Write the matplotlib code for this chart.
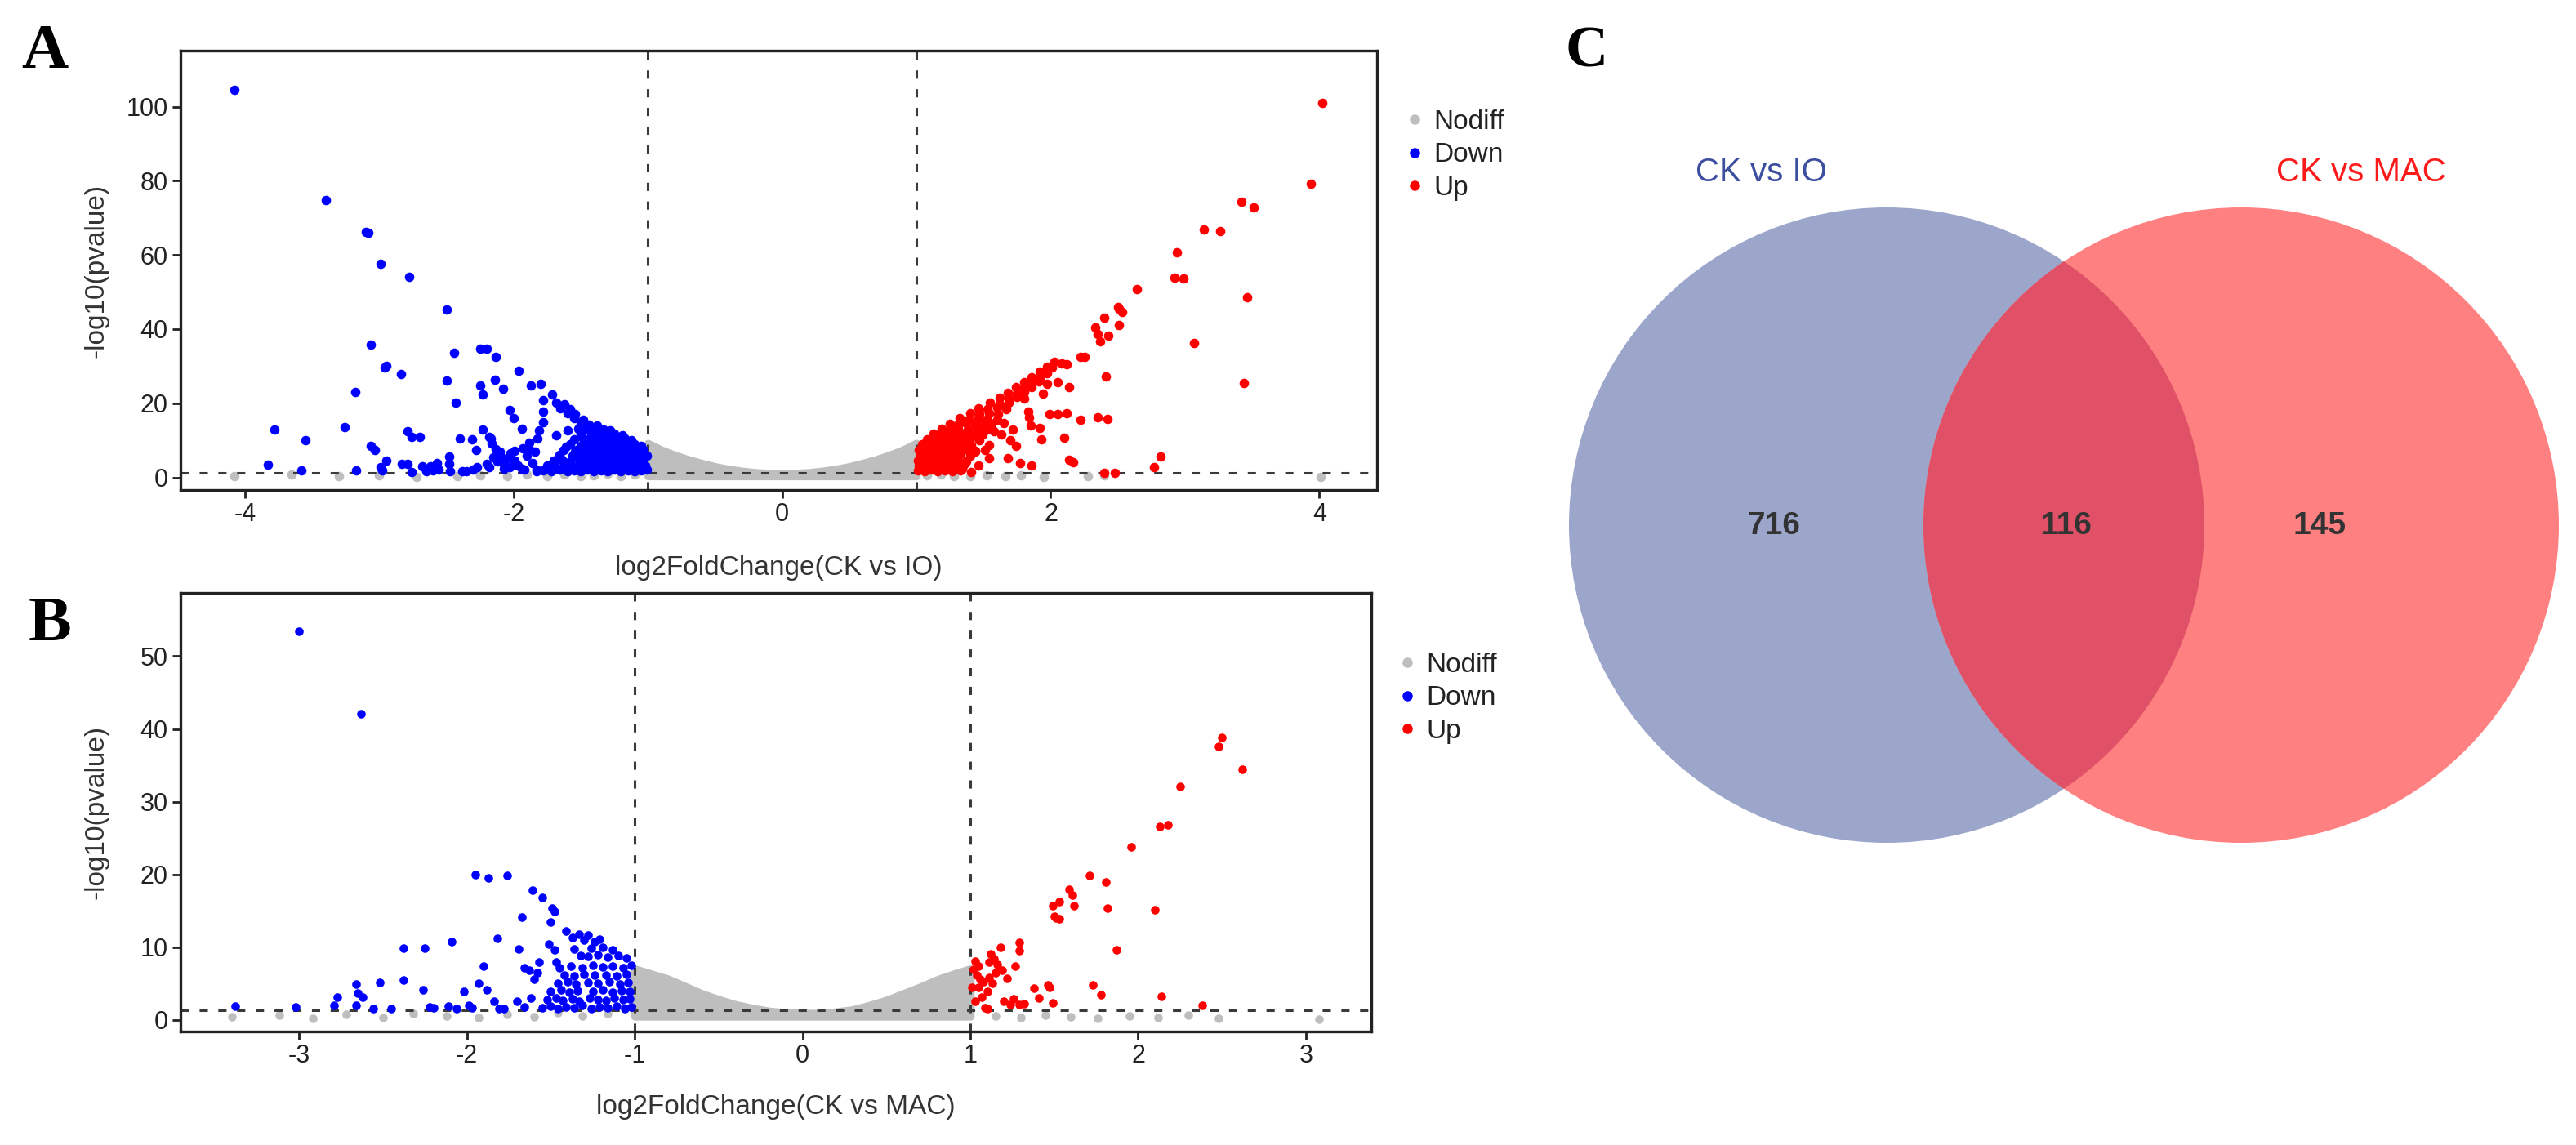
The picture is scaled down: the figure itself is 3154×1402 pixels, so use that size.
import matplotlib
matplotlib.use('Agg')
import matplotlib.pyplot as plt
from matplotlib.patches import Circle
from matplotlib.lines import Line2D

plt.rcParams['font.family'] = ['Liberation Sans', 'DejaVu Sans']
plt.rcParams['axes.unicode_minus'] = False

GREY = '#bebebe'
BLUE = '#0000ff'
RED = '#ff0000'
LEVELS = ['Nodiff', 'Down', 'Up']

# ---------------- panel A : CK vs IO ----------------
a_down = [
    (-4.08, 104.6), (-3.40, 74.7), (-3.10, 66.3), (-3.08, 65.9), (-2.99, 57.6), (-2.78, 54.1),
    (-2.50, 45.3), (-3.06, 35.9), (-2.44, 33.5), (-2.25, 34.6), (-2.20, 34.8), (-2.13, 32.4),
    (-2.96, 29.6), (-2.95, 30.0), (-2.84, 27.9), (-1.96, 28.7), (-2.50, 26.2), (-2.25, 24.8),
    (-2.14, 26.4), (-2.08, 23.9), (-2.23, 22.3), (-3.18, 23.1), (-2.43, 20.2), (-1.87, 24.8),
    (-1.80, 25.2), (-1.71, 22.4), (-1.78, 20.8), (-1.78, 17.7), (-1.78, 14.8), (-1.81, 12.7),
    (-1.82, 10.5), (-2.03, 18.2), (-2.00, 16.0), (-1.94, 13.1), (-3.78, 12.8), (-3.55, 10.0),
    (-3.26, 13.5), (-2.79, 12.5), (-2.76, 10.9), (-2.70, 10.9), (-3.06, 8.4), (-3.03, 7.3),
    (-2.40, 10.5), (-2.31, 10.2), (-2.23, 12.8), (-2.28, 7.3), (-2.18, 10.9), (-2.16, 9.1),
    (-2.13, 7.7), (-2.17, 10.5), (-2.48, 5.7), (-3.83, 3.5), (-3.58, 1.8), (-3.17, 1.8),
    (-2.99, 2.7), (-2.95, 4.6), (-2.98, 1.8), (-2.83, 3.6), (-2.79, 3.6), (-2.76, 1.5),
    (-2.68, 3.0), (-2.62, 3.0), (-2.57, 3.9), (-2.56, 2.1), (-2.65, 1.6), (-2.60, 1.9),
    (-2.47, 1.7), (-2.48, 3.6), (-2.38, 1.6), (-2.35, 1.6), (-2.30, 2.1), (-2.27, 2.8),
    (-2.20, 3.6), (-2.18, 2.7), (-2.12, 4.3), (-2.10, 6.1), (-2.07, 2.4), (-2.05, 5.2),
    (-2.02, 6.6), (-1.99, 4.6), (-1.97, 3.2), (-1.93, 7.8), (-1.92, 2.2), (-1.90, 5.8),
    (-1.88, 9.3), (-1.86, 3.8), (-1.84, 6.9), (-1.83, 2.0), (-2.15, 5.4), (-2.08, 3.9),
    (-2.03, 2.8), (-1.94, 2.4), (-1.88, 7.6), (-1.99, 7.2), (-2.10, 6.9), (-1.83, 1.7),
    (-1.73, 3.2), (-1.68, 11.3), (-1.60, 12.7), (-1.61, 8.3), (-1.54, 6.9), (-1.48, 10.5),
    # dense cluster next to the -1 threshold
    (-1.78, 1.9), (-1.72, 1.6), (-1.66, 2.0), (-1.60, 1.7), (-1.55, 1.9), (-1.50, 1.6),
    (-1.45, 2.0), (-1.40, 1.7), (-1.35, 1.8), (-1.30, 1.6), (-1.25, 2.0), (-1.20, 1.7),
    (-1.15, 1.9), (-1.10, 1.6), (-1.05, 1.8), (-1.01, 2.1),
    (-1.75, 3.3), (-1.69, 3.0), (-1.62, 3.4), (-1.57, 3.1), (-1.52, 3.3), (-1.47, 3.0),
    (-1.42, 3.4), (-1.37, 3.2), (-1.32, 3.0), (-1.27, 3.4), (-1.22, 3.1), (-1.17, 3.3),
    (-1.12, 3.0), (-1.07, 3.4), (-1.02, 3.2),
    (-1.70, 4.5), (-1.64, 4.8), (-1.58, 4.4), (-1.51, 4.7), (-1.46, 4.5), (-1.41, 4.9),
    (-1.36, 4.6), (-1.30, 4.4), (-1.25, 4.8), (-1.19, 4.5), (-1.14, 4.7), (-1.09, 4.4),
    (-1.04, 4.8),
    (-1.66, 6.1), (-1.56, 5.9), (-1.49, 6.2), (-1.44, 5.8), (-1.38, 6.1), (-1.33, 6.0),
    (-1.28, 6.3), (-1.22, 5.9), (-1.17, 6.2), (-1.12, 5.8), (-1.06, 6.1), (-1.01, 5.9),
    (-1.63, 7.5), (-1.53, 7.3), (-1.46, 7.6), (-1.40, 7.2), (-1.35, 7.5), (-1.29, 7.3),
    (-1.24, 7.6), (-1.19, 7.4), (-1.14, 7.2), (-1.09, 7.5), (-1.03, 7.3),
    (-1.58, 8.9), (-1.50, 8.6), (-1.43, 9.0), (-1.37, 8.7), (-1.31, 8.9), (-1.26, 8.6),
    (-1.20, 8.9), (-1.15, 8.7), (-1.10, 9.0), (-1.05, 8.6),
    (-1.55, 10.3), (-1.45, 10.1), (-1.39, 10.4), (-1.33, 10.0), (-1.27, 10.3), (-1.22, 10.1),
    (-1.17, 10.4), (-1.12, 10.0),
    (-1.50, 11.7), (-1.42, 11.4), (-1.36, 11.8), (-1.30, 11.5), (-1.25, 11.7), (-1.19, 11.3),
    (-1.52, 13.1), (-1.45, 12.8), (-1.39, 13.2), (-1.33, 12.9), (-1.28, 12.6),
    (-1.50, 14.5), (-1.44, 14.2), (-1.38, 14.0), (-1.55, 15.9), (-1.48, 15.6),
    (-1.60, 17.3), (-1.54, 17.0), (-1.65, 18.7), (-1.58, 18.4), (-1.68, 20.1), (-1.62, 19.8),
]

a_up = [
    (4.02, 101.0), (3.94, 79.2), (3.42, 74.4), (3.51, 72.8), (3.14, 66.8), (3.26, 66.4),
    (2.94, 60.7), (2.92, 53.9), (2.99, 53.6), (3.46, 48.5), (2.64, 50.8), (3.07, 36.2),
    (3.44, 25.4), (2.51, 45.5), (2.53, 44.6), (2.50, 45.9), (2.40, 43.0), (2.33, 40.5),
    (2.35, 38.6), (2.37, 36.6), (2.51, 41.2), (2.43, 38.2), (2.22, 32.4), (2.25, 32.4),
    (2.41, 27.3), (2.14, 24.3), (2.05, 25.6), (1.97, 25.2), (1.94, 22.6), (1.80, 21.2),
    (1.99, 17.0), (2.05, 17.0), (2.12, 17.3), (2.22, 15.5), (2.35, 16.1), (2.42, 15.7),
    (1.83, 17.7), (1.84, 16.3), (1.85, 14.1), (1.92, 13.3), (1.93, 10.2), (2.10, 10.6),
    (1.74, 8.5), (1.54, 8.8), (1.51, 7.4), (1.54, 5.2), (1.68, 5.2), (1.77, 3.9),
    (1.86, 3.2), (2.14, 4.7), (2.17, 4.1), (2.82, 5.7), (2.77, 2.7), (2.40, 1.2),
    (2.48, 1.2), (1.44, 6.9), (1.46, 3.2), (1.34, 2.3), (1.41, 1.4), (1.63, 11.5),
    (1.70, 10.0), (1.58, 12.5), (1.65, 14.6), (1.72, 12.9),
    # dense cluster next to the +1 threshold
    (1.01, 1.9), (1.06, 1.6), (1.11, 2.0), (1.16, 1.7), (1.21, 1.9), (1.27, 1.6), (1.33, 1.8),
    (1.02, 3.3), (1.07, 3.0), (1.12, 3.4), (1.17, 3.1), (1.22, 3.3), (1.28, 3.0), (1.35, 3.4),
    (1.01, 4.5), (1.06, 4.8), (1.11, 4.4), (1.16, 4.7), (1.21, 4.5), (1.26, 4.9), (1.31, 4.6),
    (1.37, 4.4),
    (1.03, 6.1), (1.08, 5.9), (1.13, 6.2), (1.18, 5.8), (1.23, 6.1), (1.28, 6.0), (1.33, 6.3),
    (1.40, 5.9),
    (1.02, 7.5), (1.07, 7.3), (1.12, 7.6), (1.17, 7.2), (1.22, 7.5), (1.27, 7.3), (1.32, 7.6),
    (1.38, 7.4), (1.44, 7.2),
    (1.04, 8.9), (1.09, 8.6), (1.14, 9.0), (1.19, 8.7), (1.24, 8.9), (1.29, 8.6), (1.35, 8.9),
    (1.41, 8.7),
    (1.08, 10.3), (1.13, 10.1), (1.18, 10.4), (1.23, 10.0), (1.28, 10.3), (1.34, 10.1),
    (1.40, 10.4), (1.47, 10.0),
    (1.13, 11.7), (1.18, 11.4), (1.23, 11.8), (1.29, 11.5), (1.35, 11.7), (1.42, 11.3),
    (1.49, 11.6),
    (1.19, 13.1), (1.25, 12.8), (1.31, 13.2), (1.38, 12.9), (1.45, 12.6), (1.52, 13.0),
    (1.25, 14.5), (1.31, 14.2), (1.37, 14.6), (1.44, 14.3), (1.50, 14.0), (1.56, 14.4),
    (1.32, 15.9), (1.39, 15.6), (1.46, 16.0), (1.53, 15.7), (1.60, 15.5),
    (1.40, 17.3), (1.47, 17.0), (1.54, 17.4), (1.61, 17.1),
    (1.46, 18.7), (1.53, 18.4), (1.60, 18.8), (1.67, 18.5),
    (1.55, 20.1), (1.62, 19.8), (1.69, 20.2), (1.62, 21.5), (1.69, 21.2), (1.75, 21.6),
    (1.68, 22.9), (1.75, 22.6), (1.80, 23.0), (1.74, 24.3), (1.80, 24.0), (1.86, 24.4),
    (1.80, 25.7), (1.86, 25.4), (1.91, 25.8), (1.86, 27.1), (1.92, 26.8),
    (1.92, 28.5), (1.97, 28.2), (1.97, 29.9), (2.01, 29.6),
    (2.03, 31.1), (2.08, 30.8), (2.12, 30.5),
]

# upper edge of the dense grey (Nodiff) cloud between the two thresholds
a_cloud_x = [-1.0, -0.9, -0.8, -0.7, -0.6, -0.5, -0.4, -0.3, -0.2, -0.1, 0.0,
             0.1, 0.2, 0.3, 0.4, 0.5, 0.6, 0.7, 0.8, 0.9, 1.0]
a_cloud_top = [9.2, 7.4, 6.0, 4.8, 3.8, 2.9, 2.2, 1.7, 1.3, 1.1, 1.0,
               1.1, 1.3, 1.7, 2.2, 2.9, 3.8, 4.8, 6.0, 7.4, 9.2]
a_nodiff = [
    (-4.08, 0.4), (-3.65, 0.7), (-3.30, 0.3), (-3.00, 0.5), (-2.72, 0.2), (-2.42, 0.4),
    (-2.25, 0.6), (-2.05, 0.3), (-1.90, 0.7), (-1.75, 0.4), (-1.62, 0.8), (-1.50, 0.3),
    (-1.40, 0.6), (-1.30, 0.9), (-1.20, 0.4), (-1.10, 0.7), (1.08, 0.6), (1.18, 0.8),
    (1.28, 0.4), (1.40, 0.3), (1.52, 0.6), (1.66, 0.3), (1.78, 0.5), (1.95, 0.2),
    (2.28, 0.4), (2.40, 0.6), (4.01, 0.1),
]

# ---------------- panel B : CK vs MAC ----------------
b_down = [
    (-3.00, 53.4), (-2.63, 42.1), (-1.95, 20.0), (-1.87, 19.5), (-1.76, 19.8), (-1.61, 17.8),
    (-1.55, 16.8), (-1.49, 15.4), (-1.48, 14.9), (-1.50, 13.4), (-1.67, 14.1), (-1.41, 12.2),
    (-1.37, 11.3), (-1.82, 11.2), (-2.09, 10.8), (-2.38, 9.9), (-2.25, 9.9), (-1.69, 9.7),
    (-1.51, 10.4), (-1.48, 9.6), (-1.36, 9.7), (-1.32, 8.8), (-1.90, 7.4), (-1.66, 7.2),
    (-1.57, 8.0), (-1.47, 8.0), (-1.45, 7.2), (-2.38, 5.5), (-2.52, 5.1), (-2.66, 4.9),
    (-2.65, 3.7), (-2.77, 3.1), (-2.79, 2.0), (-2.26, 4.1), (-1.93, 5.0), (-1.88, 4.1),
    (-2.02, 3.9), (-3.38, 1.9), (-3.02, 1.8), (-2.66, 2.0), (-2.62, 3.1), (-2.56, 1.6),
    (-2.45, 1.6), (-2.22, 1.8), (-2.20, 1.7), (-2.11, 1.9), (-2.06, 1.6), (-1.99, 2.0),
    (-1.97, 1.7), (-1.84, 2.6), (-1.81, 1.5), (-1.78, 1.5), (-1.70, 2.6), (-1.66, 1.8),
    (-1.62, 3.0), (-1.60, 5.6), (-1.58, 6.5), (-1.63, 6.8),
    (-1.55, 1.7), (-1.50, 1.9), (-1.46, 1.6), (-1.41, 1.8), (-1.36, 1.7), (-1.31, 2.0),
    (-1.26, 1.6), (-1.21, 1.8), (-1.16, 1.7), (-1.11, 1.9), (-1.06, 1.6), (-1.02, 1.8),
    (-1.52, 2.8), (-1.47, 3.0), (-1.43, 2.7), (-1.37, 2.9), (-1.33, 2.6), (-1.27, 3.0),
    (-1.22, 2.8), (-1.17, 2.7), (-1.12, 3.0), (-1.07, 2.8), (-1.03, 2.9),
    (-1.50, 3.9), (-1.44, 4.1), (-1.39, 3.8), (-1.34, 4.0), (-1.25, 3.9), (-1.19, 4.1),
    (-1.13, 3.8), (-1.08, 4.0), (-1.03, 3.9),
    (-1.46, 5.0), (-1.40, 5.2), (-1.35, 4.9), (-1.28, 5.1), (-1.22, 5.0), (-1.15, 5.2),
    (-1.09, 4.9), (-1.04, 5.1),
    (-1.42, 6.2), (-1.36, 6.0), (-1.30, 6.3), (-1.24, 6.1), (-1.17, 6.2), (-1.11, 6.0),
    (-1.05, 6.3),
    (-1.38, 7.4), (-1.31, 7.2), (-1.25, 7.5), (-1.19, 7.3), (-1.13, 7.4), (-1.07, 7.2),
    (-1.02, 7.5),
    (-1.28, 8.7), (-1.22, 8.9), (-1.16, 8.6), (-1.10, 8.8), (-1.05, 8.5),
    (-1.26, 9.8), (-1.19, 10.0), (-1.13, 9.6), (-1.30, 11.0), (-1.24, 10.8), (-1.21, 11.1),
    (-1.33, 11.8), (-1.28, 11.6),
]

b_up = [
    (2.50, 38.8), (2.48, 37.6), (2.62, 34.5), (2.25, 32.1), (2.13, 26.6), (2.18, 26.8),
    (1.96, 23.8), (1.71, 19.9), (1.81, 18.9), (1.59, 17.9), (1.61, 17.1), (1.49, 15.7),
    (1.53, 16.2), (1.62, 15.7), (1.50, 14.2), (1.53, 13.9), (1.51, 14.0), (1.82, 15.4),
    (2.10, 15.1), (1.87, 9.6), (1.29, 10.6), (1.29, 9.5), (1.18, 10.0), (1.12, 9.1),
    (1.14, 8.4), (1.11, 8.0), (1.03, 8.1), (1.05, 7.4), (1.02, 6.9), (1.04, 6.1),
    (1.27, 7.4), (1.19, 6.8), (1.22, 5.7), (1.01, 4.5), (1.05, 4.5), (1.08, 5.3),
    (1.11, 5.8), (1.13, 5.0), (1.10, 3.9), (1.07, 3.1), (1.09, 1.7), (1.10, 1.6),
    (1.38, 4.3), (1.41, 3.0), (1.46, 4.8), (1.47, 4.5), (1.49, 2.3), (1.20, 2.6),
    (1.26, 2.9), (1.24, 2.1), (1.29, 2.1), (1.32, 2.2), (1.73, 4.8), (1.78, 3.5),
    (2.14, 3.2), (2.38, 2.0), (1.15, 6.5), (1.06, 5.6), (1.16, 7.6), (1.03, 2.5),
]

b_cloud_x = a_cloud_x
b_cloud_top = [7.0, 6.3, 5.6, 4.6, 3.6, 2.8, 2.1, 1.6, 1.2, 1.0, 0.9,
               0.9, 1.1, 1.4, 2.0, 2.7, 3.6, 4.5, 5.5, 6.3, 7.0]
b_nodiff = [
    (-3.40, 0.4), (-3.12, 0.7), (-2.92, 0.2), (-2.72, 0.8), (-2.50, 0.3), (-2.32, 0.9),
    (-2.12, 0.5), (-1.93, 0.3), (-1.76, 0.8), (-1.60, 0.4), (-1.46, 1.0), (-1.31, 0.5),
    (-1.16, 0.9), (1.15, 0.5), (1.30, 0.3), (1.45, 0.7), (1.60, 0.4), (1.76, 0.2),
    (1.95, 0.5), (2.12, 0.3), (2.30, 0.6), (2.48, 0.2), (3.08, 0.1),
]

# ---------------- panel C : Venn counts ----------------
venn_names = ['CK vs IO', 'CK vs MAC']
venn_counts = [716, 116, 145]   # IO only, shared, MAC only

W, H = 3154, 1402
fig = plt.figure(figsize=(W / 100, H / 100), dpi=100)


def volcano(rect, down, up, cloud_x, cloud_top, cloud_base, nodiff, size,
            xlim, ylim, xticks, yticks, xlabel, xlab_y, ylab_x, leg_xy):
    ax = fig.add_axes(rect)
    ax.fill_between(cloud_x, cloud_base, cloud_top, color=GREY, lw=7,
                    joinstyle='round', zorder=2)
    ax.scatter([p[0] for p in nodiff], [p[1] for p in nodiff], s=size, c=GREY, lw=0, zorder=2)
    ax.scatter([p[0] for p in down], [p[1] for p in down], s=size, c=BLUE, lw=0, zorder=3)
    ax.scatter([p[0] for p in up], [p[1] for p in up], s=size, c=RED, lw=0, zorder=3)
    dash = dict(color='#3a3a3a', lw=2.2, ls=(0, (3.3, 4.2)), zorder=2.5)
    ax.axvline(-1, **dash)
    ax.axvline(1, **dash)
    ax.axhline(1.3, **dash)
    ax.set_xlim(*xlim)
    ax.set_ylim(*ylim)
    ax.set_xticks(xticks)
    ax.set_yticks(yticks)
    ax.tick_params(labelsize=22, length=7, width=2.0, pad=4, colors='#222222')
    for s in ax.spines.values():
        s.set_linewidth(2.4)
        s.set_color('#222222')
    ax.set_xlabel(xlabel, fontsize=24, color='#333333')
    ax.set_ylabel('-log10(pvalue)', fontsize=24, color='#333333')
    ax.xaxis.set_label_coords(0.5, xlab_y)
    ax.yaxis.set_label_coords(ylab_x, 0.5)
    handles = [Line2D([], [], ls='', marker='o', markersize=9, mew=0, color=c)
               for c in (GREY, BLUE, RED)]
    ax.legend(handles, LEVELS, loc='upper left', bbox_to_anchor=leg_xy, frameon=False,
              fontsize=24, borderpad=0, borderaxespad=0, handlelength=1.0,
              handletextpad=0.2, labelspacing=0.28, labelcolor='#222222')
    return ax


volcano([221 / W, 1 - 600 / H, 1465 / W, 538 / H], a_down, a_up, a_cloud_x, a_cloud_top, 0.4,
        a_nodiff, 70, (-4.48, 4.43), (-3.4, 115.1), [-4, -2, 0, 2, 4], range(0, 101, 20),
        'log2FoldChange(CK vs IO)', -0.149, -0.0594, (1.0198, 0.866))
volcano([221 / W, 1 - 1263 / H, 1458 / W, 537 / H], b_down, b_up, b_cloud_x, b_cloud_top, 0.5,
        b_nodiff, 58, (-3.707, 3.39), (-1.6, 58.7), [-3, -2, -1, 0, 1, 2, 3], range(0, 51, 10),
        'log2FoldChange(CK vs MAC)', -0.143, -0.0597, (1.019, 0.864))

# panel letters
letter = dict(family=['Liberation Serif', 'DejaVu Serif'], fontweight='bold', va='baseline')
fig.text(26 / W, 1 - 83 / H, 'A', fontsize=57, **letter)
fig.text(35 / W, 1 - 784 / H, 'B', fontsize=57, **letter)
fig.text(1917 / W, 1 - 81 / H, 'C', fontsize=52, **letter)

# ---------------- Venn diagram ----------------
axc = fig.add_axes([1880 / W, 0, 1274 / W, 1])
axc.set_xlim(1880, 3154)
axc.set_ylim(1402, 0)
axc.axis('off')
r = 389
c_left, c_right = (2310, 643), (2744, 643)
left = Circle(c_left, r, fc='#9ca6cb', ec='none')
right = Circle(c_right, r, fc='#ff8080', ec='none')
axc.add_patch(left)
axc.add_patch(right)
shared = Circle(c_right, r, fc='#e05066', ec='none')
axc.add_patch(shared)
shared.set_clip_path(left)

axc.text(2156, 222, venn_names[0], fontsize=29, color='#3c4ea0',
         ha='center', va='baseline')
axc.text(2891, 222, venn_names[1], fontsize=29, color='#ff1a1a',
         ha='center', va='baseline')
for xc, n in zip([2172, 2530, 2840], venn_counts):
    axc.text(xc, 654, str(n), fontsize=28, color='#333333',
             fontweight='bold', ha='center', va='baseline')

fig.savefig('out.png', dpi=100)
